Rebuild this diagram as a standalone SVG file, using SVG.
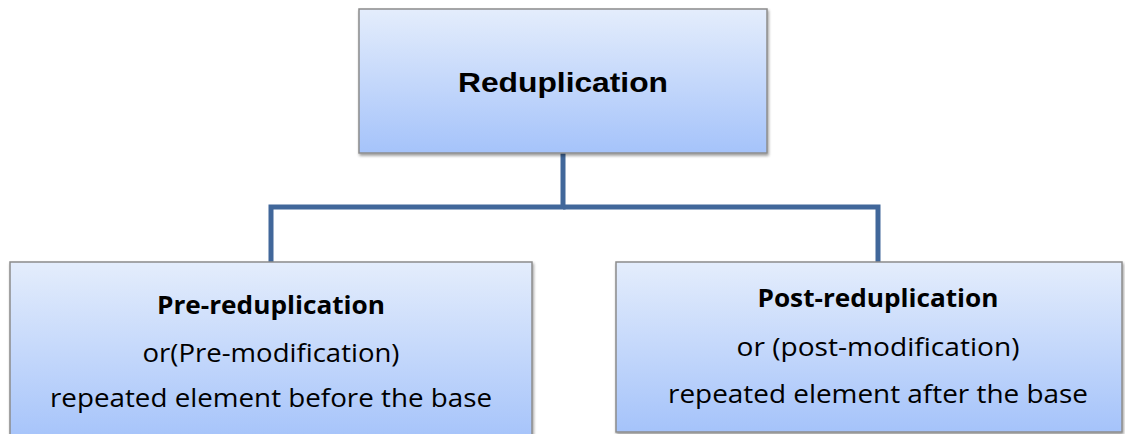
<svg xmlns="http://www.w3.org/2000/svg" width="1125" height="434" viewBox="0 0 1125 434">
<defs>
<linearGradient id="g" x1="0" y1="0" x2="0" y2="1">
<stop offset="0" stop-color="#e4edfc"/>
<stop offset="1" stop-color="#a5c3fa"/>
</linearGradient>
<filter id="sh" x="-5%" y="-5%" width="110%" height="115%">
<feGaussianBlur in="SourceAlpha" stdDeviation="1.5"/>
<feOffset dx="1" dy="2" result="b"/>
<feComponentTransfer><feFuncA type="linear" slope="0.4"/></feComponentTransfer>
<feMerge><feMergeNode/><feMergeNode in="SourceGraphic"/></feMerge>
</filter>
</defs>
<style>
.box{fill:url(#g);stroke:#8c8c8c;stroke-width:1.5;filter:url(#sh)}
.conn{fill:none;stroke:#41679a;stroke-width:5}
.t{font-family:"Liberation Sans",Arial,sans-serif;text-anchor:middle;fill:#000}
.c{font-family:"Open Sans","Noto Sans",sans-serif;text-anchor:middle;fill:#000;font-size:25px}
.b{font-weight:bold}
</style>
<rect width="1125" height="434" fill="#fff"/>
<g id="connectors">
<polyline class="conn" points="563,153 563,207 271,207 271,262"/>
<polyline class="conn" points="563,207 878,207 878,262"/>
</g>
<g id="reduplication">
<rect class="box" x="359" y="9" width="408" height="144"/>
<text class="t b" x="563" y="92" font-size="28" textLength="210" lengthAdjust="spacingAndGlyphs">Reduplication</text>
</g>
<g id="pre">
<rect class="box" x="10" y="262" width="522" height="180"/>
<text class="c b" x="271" y="314" textLength="228" lengthAdjust="spacingAndGlyphs">Pre-reduplication</text>
<text class="c" x="271" y="362" textLength="257" lengthAdjust="spacingAndGlyphs">or(Pre-modification)</text>
<text class="c" x="271" y="407" textLength="442" lengthAdjust="spacingAndGlyphs">repeated element before the base</text>
</g>
<g id="post">
<rect class="box" x="616" y="262" width="506" height="170"/>
<text class="c b" x="878" y="307" textLength="241" lengthAdjust="spacingAndGlyphs">Post-reduplication</text>
<text class="c" x="878" y="356" textLength="283" lengthAdjust="spacingAndGlyphs">or (post-modification)</text>
<text class="c" x="878" y="403" textLength="420" lengthAdjust="spacingAndGlyphs">repeated element after the base</text>
</g>
</svg>
